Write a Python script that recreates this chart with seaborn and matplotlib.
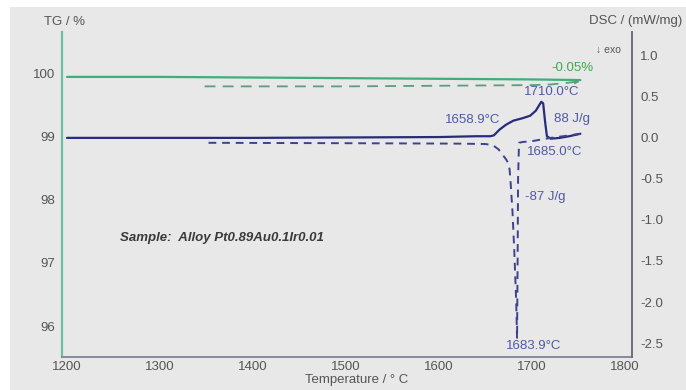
import matplotlib
matplotlib.use("Agg")
import matplotlib.pyplot as plt
from matplotlib.patches import Rectangle
import seaborn as sns

# --- data -----------------------------------------------------------------
# TG heating (solid) and cooling (dashed)
tg_heat_T = [1200, 1300, 1400, 1500, 1600, 1700, 1752]
tg_heat_v = [99.94, 99.94, 99.93, 99.92, 99.91, 99.90, 99.89]
tg_cool_T = [1348, 1400, 1500, 1600, 1700, 1720, 1740, 1752]
tg_cool_v = [99.79, 99.79, 99.79, 99.80, 99.81, 99.82, 99.85, 99.87]

# DSC heating (solid)
dsc_heat_T = [1200, 1400, 1600, 1640, 1655, 1658.9, 1665, 1672, 1680, 1690,
              1698, 1704, 1710.0, 1712, 1714, 1716, 1720, 1730, 1740, 1752]
dsc_heat_v = [0.00, 0.00, 0.01, 0.02, 0.02, 0.03, 0.10, 0.16, 0.21, 0.24,
              0.27, 0.33, 0.44, 0.42, 0.20, 0.02, -0.01, 0.00, 0.02, 0.05]

# DSC cooling (dashed), in order of the run: high to low temperature
dsc_cool_T = [1752, 1740, 1720, 1700, 1690, 1686, 1685, 1684.5, 1684, 1683.9,
              1683, 1681, 1679, 1677, 1676, 1675, 1672, 1668, 1664, 1658,
              1650, 1620, 1500, 1348]
dsc_cool_v = [0.05, 0.03, 0.00, -0.04, -0.05, -0.06, -0.5, -1.5, -2.3, -2.45,
              -2.0, -1.4, -0.9, -0.55, -0.4, -0.32, -0.26, -0.20, -0.14, -0.09,
              -0.075, -0.07, -0.065, -0.06]

x_ticks = [1200, 1300, 1400, 1500, 1600, 1700, 1800]
tg_ticks = [96, 97, 98, 99, 100]
dsc_ticks = [1.0, 0.5, 0.0, -0.5, -1.0, -1.5, -2.0, -2.5]

# --- style ----------------------------------------------------------------
sns.set_style("white")
plt.rcParams["font.family"] = ["Liberation Sans", "DejaVu Sans"]

BG = "#e8e8e8"
GREEN = "#3fae7a"
GREEN_D = "#5f9c7a"
NAVY = "#262b7e"
NAVY_D = "#3d4290"
LBL_BLUE = "#5058a8"
TXT = "#555555"
FS = 9.5

fig = plt.figure(figsize=(6.86, 3.90), dpi=100)
fig.patch.set_facecolor("white")
fig.add_artist(Rectangle((10 / 686, 0), 1, 383 / 390, transform=fig.transFigure,
                         facecolor=BG, edgecolor="none", zorder=-5))

ax = fig.add_axes([62 / 686, 33 / 390, 570 / 686, 325 / 390])
ax.set_facecolor("none")
ax2 = ax.twinx()
ax2.set_facecolor("none")

# TG curves
sns.lineplot(x=tg_heat_T, y=tg_heat_v, ax=ax, color=GREEN, linewidth=1.6,
             estimator=None, sort=False)
sns.lineplot(x=tg_cool_T, y=tg_cool_v, ax=ax, color=GREEN_D, linewidth=1.3,
             linestyle=(0, (6, 4)), estimator=None, sort=False)
ax.annotate("", xy=(tg_cool_T[-1] + 2, tg_cool_v[-1]),
            xytext=(tg_cool_T[-1] - 6, tg_cool_v[-1] - 0.01),
            arrowprops=dict(arrowstyle="-|>", color=GREEN_D, lw=1.0,
                            mutation_scale=6))

# DSC curves
sns.lineplot(x=dsc_heat_T, y=dsc_heat_v, ax=ax2, color=NAVY, linewidth=1.6,
             estimator=None, sort=False)
sns.lineplot(x=dsc_cool_T, y=dsc_cool_v, ax=ax2, color=NAVY_D, linewidth=1.4,
             linestyle=(0, (4, 3)), estimator=None, sort=False)

# axes limits and ticks
ax.set_xlim(1194.6, 1807.5)
ax.set_ylim(95.51, 100.65)
ax2.set_ylim(-2.67, 1.29)
ax.set_xticks(x_ticks)
ax.set_xticklabels([str(t) for t in x_ticks])
ax.set_yticks(tg_ticks)
ax.set_yticklabels([str(t) for t in tg_ticks])
ax2.set_yticks(dsc_ticks)
ax2.set_yticklabels([f"{t:.1f}" for t in dsc_ticks])

ax.tick_params(axis="both", length=0, labelsize=FS, colors=TXT)
ax.tick_params(axis="x", pad=3)
ax.tick_params(axis="y", pad=5)
ax2.tick_params(axis="y", length=0, labelsize=FS, colors=TXT, pad=6)
ax.set_xlabel("Temperature / ° C", fontsize=FS, color=TXT)
ax.xaxis.set_label_coords((357 - 62) / 570, -0.052)
ax.set_ylabel("")
ax2.set_ylabel("")

for a in (ax, ax2):
    a.spines["top"].set_visible(False)
ax.spines["left"].set_color("#6cc0a2")
ax.spines["left"].set_linewidth(1.6)
ax.spines["bottom"].set_color("#858aa3")
ax.spines["bottom"].set_linewidth(1.4)
ax2.spines["left"].set_visible(False)
ax2.spines["bottom"].set_visible(False)
ax.spines["right"].set_visible(False)
ax2.spines["right"].set_color("#6e6e78")
ax2.spines["right"].set_linewidth(1.4)

# axis titles
fig.text(65 / 686, 1 - 22 / 390, "TG / %", fontsize=FS, color=TXT,
         ha="center", va="center")
fig.text(682 / 686, 1 - 21 / 390, "DSC / (mW/mg)", fontsize=FS, color=TXT,
         ha="right", va="center")
fig.text(608 / 686, 1 - 50 / 390, "↓ exo", fontsize=7.5, color=TXT,
         ha="center", va="center")

# annotations
ax.text(1765.6, 100.08, "-0.05%", fontsize=FS, color="#3caa4a",
        ha="right", va="center")
ax2.text(1721.5, 0.56, "1710.0°C", fontsize=FS, color=LBL_BLUE, ha="center", va="center")
ax2.text(1665.6, 0.22, "1658.9°C", fontsize=FS, color=LBL_BLUE, ha="right", va="center")
ax2.text(1724, 0.23, "88 J/g", fontsize=FS, color=LBL_BLUE, ha="left", va="center")
ax2.text(1694.6, -0.17, "1685.0°C", fontsize=FS, color=LBL_BLUE, ha="left", va="center")
ax2.text(1692.5, -0.72, "-87 J/g", fontsize=FS, color=LBL_BLUE, ha="left", va="center")
ax2.text(1701.6, -2.53, "1683.9°C", fontsize=FS, color=LBL_BLUE, ha="center", va="center")

ax.text(1257, 97.39, "Sample:  Alloy Pt0.89Au0.1Ir0.01", fontsize=FS,
        fontweight="bold", fontstyle="italic", color="#3a3a3a",
        ha="left", va="center")

fig.savefig("out.png", dpi=100)
